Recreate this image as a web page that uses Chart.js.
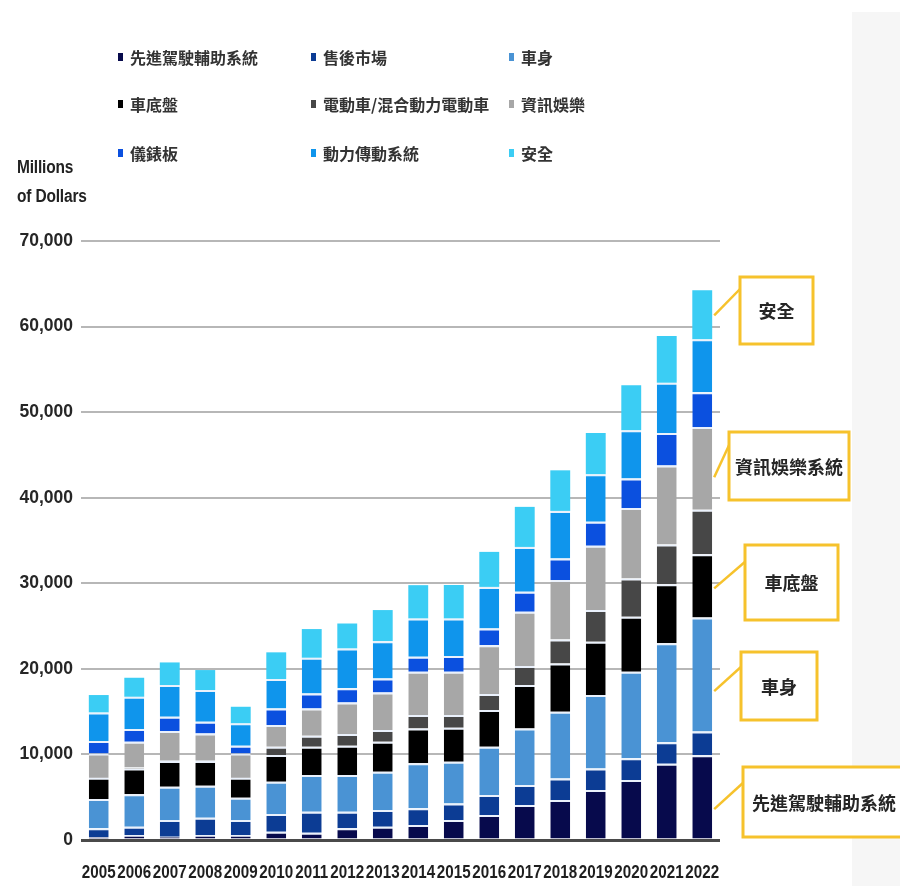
<!DOCTYPE html>
<html>
<head>
<meta charset="utf-8">
<script src="https://cdn.jsdelivr.net/npm/chart.js@4.4.1/dist/chart.umd.min.js"></script>
<style>
  html, body { margin: 0; padding: 0; background: #fff; }
  #wrap { position: relative; width: 900px; height: 886px; overflow: hidden; background: #fff; }
  #side { position: absolute; left: 852px; top: 12px; width: 48px; height: 874px; background: #f6f6f6; }
  #chart { position: absolute; left: 0; top: 0; }
  #legend { position: absolute; left: 0; top: 0; width: 900px; height: 200px;
            font-family: "Noto Sans CJK TC", "Noto Sans CJK SC", sans-serif; font-size: 16px;
            font-weight: bold; color: #333; }
  .item { position: absolute; white-space: nowrap; line-height: 20px; height: 20px; }
  .sw { position: absolute; left: -12px; top: 6px; width: 5px; height: 8px; }
  #unit { position: absolute; left: 17px; top: 153px; font-family: "Liberation Sans", Arial, sans-serif;
          font-weight: bold; font-size: 18px; line-height: 29px; color: #222; letter-spacing: -0.2px;
          transform: scaleX(0.86); transform-origin: 0 0; }
</style>
</head>
<body>
<div id="wrap">
  <div id="side"></div>
  <canvas id="chart" width="900" height="886"></canvas>
  <div id="legend"></div>
  <div id="unit">Millions<br>of Dollars</div>
</div>
<script>
// Automotive electronics market by segment, millions of US dollars
const years = ['2005','2006','2007','2008','2009','2010','2011','2012','2013',
               '2014','2015','2016','2017','2018','2019','2020','2021','2022'];

const adas         = [350, 580, 390, 580, 580, 970, 850, 1360, 1550, 1750, 2340, 2920, 4090, 4670, 5840, 7000, 8900, 9900];
const aftermarket  = [1010, 970, 1950, 2030, 1760, 2070, 2460, 1950, 1950, 1950, 1940, 2340, 2330, 2530, 2530, 2540, 2520, 2780];
const bodyElec     = [3430, 3790, 3890, 3730, 2600, 3770, 4280, 4280, 4470, 5260, 4860, 5640, 6620, 7790, 8570, 10120, 11580, 13320];
const chassis      = [2490, 3030, 3000, 2890, 2340, 3120, 3310, 3430, 3520, 4080, 3980, 4280, 5060, 5650, 6230, 6420, 6900, 7400];
const evHev        = [80, 100, 80, 80, 80, 970, 1290, 1360, 1360, 1560, 1480, 1870, 2220, 2800, 3700, 4470, 4630, 5200];
const infotainment = [2760, 3020, 3420, 3150, 2760, 2530, 3190, 3700, 4400, 5060, 5060, 5720, 6340, 6930, 7510, 8260, 9240, 9660];
const instrument   = [1440, 1480, 1680, 1360, 900, 1950, 1750, 1640, 1630, 1750, 1830, 1950, 2340, 2530, 2800, 3430, 3780, 4070];
const powertrain   = [3350, 3770, 3690, 3700, 2610, 3430, 4170, 4670, 4360, 4480, 4400, 4860, 5250, 5560, 5570, 5650, 5890, 6190];
const safety       = [2030, 2220, 2650, 2340, 1940, 3120, 3350, 2910, 3630, 3890, 3910, 4090, 4680, 4740, 4820, 5250, 5460, 5720];

const seriesNames = ['先進駕駛輔助系統', '售後市場', '車身', '車底盤', '電動車/混合動力電動車',
                     '資訊娛樂', '儀錶板', '動力傳動系統', '安全'];
const seriesData  = [adas, aftermarket, bodyElec, chassis, evHev, infotainment, instrument, powertrain, safety];
const seriesColors = ['#070a4c', '#0c3c94', '#4a93d4', '#000000', '#474747',
                      '#a7a7a7', '#0b50df', '#0f95ec', '#3bcdf4'];

const yTicks = [0, 10000, 20000, 30000, 40000, 50000, 60000, 70000];

// Call-out boxes at the right of the last bar
const calloutLabels  = ['安全', '資訊娛樂系統', '車底盤', '車身', '先進駕駛輔助系統'];
const calloutAnchors = [61300, 42400, 29400, 17400, 3600];

const LATIN = '"Liberation Sans", Arial, sans-serif';
const CJK = '"Noto Sans CJK TC", "Noto Sans CJK SC", sans-serif';

const datasets = seriesNames.map((name, i) => ({
  label: name,
  data: seriesData[i],
  backgroundColor: seriesColors[i],
  borderColor: 'rgba(232,240,252,0.92)',
  borderWidth: i === seriesNames.length - 1 ? 0 : { top: 2, right: 0, bottom: 0, left: 0 },
  borderSkipped: false,
  barPercentage: 0.56,
  categoryPercentage: 1.0
}));

// Year labels under the bars, set in a condensed bold face
const yearLabelPlugin = {
  id: 'yearLabels',
  afterDraw(chart) {
    const { ctx, scales: { x }, chartArea } = chart;
    ctx.save();
    ctx.fillStyle = '#1e1e1e';
    ctx.font = 'bold 19px ' + LATIN;
    ctx.textAlign = 'center';
    ctx.textBaseline = 'middle';
    chart.data.labels.forEach((lab, i) => {
      ctx.save();
      ctx.translate(x.getPixelForTick(i), chartArea.bottom + 33);
      ctx.scale(0.8, 1);
      ctx.fillText(lab, 0, 0);
      ctx.restore();
    });
    ctx.restore();
  }
};

const calloutPlugin = {
  id: 'callouts',
  afterDatasetsDraw(chart) {
    const ctx = chart.ctx;
    const y = chart.scales.y;
    const meta = chart.getDatasetMeta(0);
    const last = meta.data[meta.data.length - 1];
    const barRight = last.x + last.width / 2;
    // box layout: [left, top, width, height, leader end x, leader end y, text align]
    const boxes = [
      [740, 277, 73, 67, 741, 288, 'center'],
      [729, 432, 120, 68, 731, 441, 'center'],
      [745, 545, 93, 75, 746, 561, 'center'],
      [741, 652, 76, 68, 742, 666, 'center'],
      [743, 767, 180, 70, 744, 782, 'left']
    ];
    ctx.save();
    calloutLabels.forEach((label, i) => {
      const [bx, by, bw, bh, ex, ey, align] = boxes[i];
      const sy = y.getPixelForValue(calloutAnchors[i]);
      ctx.strokeStyle = '#f6c22c';
      ctx.lineWidth = 2.5;
      ctx.beginPath();
      ctx.moveTo(barRight + 2, sy);
      ctx.lineTo(ex, ey);
      ctx.stroke();
      ctx.fillStyle = '#ffffff';
      ctx.fillRect(bx, by, bw, bh);
      ctx.lineWidth = 3;
      ctx.strokeRect(bx, by, bw, bh);
      ctx.fillStyle = '#262626';
      ctx.font = 'bold 18px ' + CJK;
      ctx.textBaseline = 'middle';
      if (align === 'center') {
        ctx.textAlign = 'center';
        ctx.fillText(label, bx + bw / 2, by + bh / 2 + 1);
      } else {
        ctx.textAlign = 'left';
        ctx.fillText(label, bx + 9, by + bh / 2 + 1);
      }
    });
    ctx.restore();
  }
};

const chart = new Chart(document.getElementById('chart'), {
  type: 'bar',
  data: { labels: years, datasets },
  plugins: [calloutPlugin, yearLabelPlugin],
  options: {
    responsive: false,
    animation: false,
    layout: { padding: { top: 241, right: 180, left: 0, bottom: 0 } },
    plugins: { legend: { display: false }, tooltip: { enabled: false } },
    scales: {
      x: {
        stacked: true,
        grid: { display: false, drawTicks: false },
        border: { display: false },
        ticks: { display: false, autoSkip: false },
        afterFit(scale) { scale.height = 46; }
      },
      y: {
        stacked: true,
        min: 0, max: 70000,
        afterBuildTicks(scale) { scale.ticks = yTicks.map(v => ({ value: v })); },
        grid: {
          drawTicks: false,
          color: ctx => ctx.tick && ctx.tick.value === 0 ? '#4a4a4a' : '#b7b7b7',
          lineWidth: ctx => ctx.tick && ctx.tick.value === 0 ? 3 : 2
        },
        border: { display: false },
        ticks: {
          color: '#262626', padding: 8,
          font: { family: LATIN, size: 17.5, weight: 'bold' },
          callback: v => Number(v).toLocaleString('en-US')
        },
        afterFit(scale) { scale.width = 81; }
      }
    }
  }
});

// HTML legend in three columns, built from the chart's datasets
const legendCols = [130, 323, 521];
const legendRows = [47, 94, 143];
const legendEl = document.getElementById('legend');
chart.data.datasets.forEach((ds, i) => {
  const item = document.createElement('div');
  item.className = 'item';
  item.style.left = legendCols[i % 3] + 'px';
  item.style.top = legendRows[Math.floor(i / 3)] + 'px';
  const sw = document.createElement('span');
  sw.className = 'sw';
  sw.style.background = ds.backgroundColor;
  item.appendChild(sw);
  item.appendChild(document.createTextNode(ds.label));
  legendEl.appendChild(item);
});
</script>
</body>
</html>
